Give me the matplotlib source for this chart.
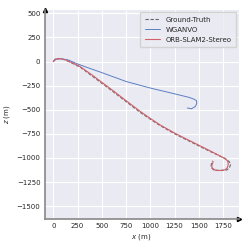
import numpy as np
import matplotlib
matplotlib.use("Agg")
import matplotlib.pyplot as plt
import seaborn as sns

sns.set_style("darkgrid")
plt.rcParams['font.family'] = ['DejaVu Sans']

# trajectories (x, z in metres)
gt_x = [0, 20, 60, 120, 200, 280, 400, 500, 600, 740, 900, 1000, 1100, 1255, 1430,
        1600, 1775, 1815, 1828, 1815, 1790, 1720, 1655, 1625, 1632, 1645]
gt_z = [0, 24, 30, 18, -20, -60, -150, -225, -300, -408, -530, -598, -664, -752, -840,
        -925, -1008, -1040, -1068, -1104, -1124, -1132, -1128, -1092, -1055, -1030]

wg_x = [0, 30, 70, 150, 250, 350, 500, 750, 1000, 1250, 1400, 1445, 1475, 1480, 1465,
        1425, 1382]
wg_z = [0, 24, 30, 18, -25, -62, -115, -207, -275, -335, -372, -388, -405, -432, -466,
        -490, -482]

orb_x = [0, 20, 60, 120, 200, 278, 400, 500, 600, 741, 900, 1000, 1102, 1256, 1428,
         1600, 1755, 1795, 1805, 1795, 1771, 1720, 1668, 1638, 1634, 1648]
orb_z = [0, 25, 31, 20, -15, -53, -140, -215, -290, -399, -520, -590, -658, -745, -832,
         -918, -998, -1028, -1060, -1100, -1124, -1130, -1126, -1105, -1080, -1040]

xticks = [0, 250, 500, 750, 1000, 1250, 1500, 1750]
yticks = [-1500, -1250, -1000, -750, -500, -250, 0, 250, 500]

fig = plt.figure(figsize=(2.49, 2.49), dpi=100)
ax = fig.add_axes([0.179, 0.12, 0.779, 0.84])

ax.plot(gt_x, gt_z, '--', color='#666666', lw=0.8, dashes=(3, 1.5), label='Ground-Truth')
ax.plot(wg_x, wg_z, color='#5b7fc4', lw=0.7, label='WGANVO')
ax.plot(orb_x, orb_z, color='#d4606a', lw=0.8, label='ORB-SLAM2-Stereo')

ax.set_xlim(-90, 1910)
ax.set_ylim(-1635, 535)
ax.set_xticks(xticks)
ax.set_yticks(yticks)
ax.tick_params(labelsize=5, pad=3, length=0)
ax.grid(color='white', lw=0.8)

for s in ['top', 'right']:
    ax.spines[s].set_visible(False)
for s in ['left', 'bottom']:
    ax.spines[s].set_visible(True)
    ax.spines[s].set_color('#888888')
    ax.spines[s].set_linewidth(1.2)

# arrow heads at the ends of the axes
ax.plot(1, 0, ">k", ms=3, transform=ax.transAxes, clip_on=False)
ax.plot(0, 1, "^k", ms=3, transform=ax.transAxes, clip_on=False)

ax.set_xlabel('$x$ (m)', fontsize=5, labelpad=2)
ax.set_ylabel('$z$ (m)', fontsize=5, labelpad=3)

ax.legend(loc='upper right', fontsize=5, handlelength=2.2, borderpad=0.7,
          labelspacing=0.55, bbox_to_anchor=(1.0, 1.0), borderaxespad=0.3,
          frameon=True)

fig.savefig('out.png', dpi=100)
